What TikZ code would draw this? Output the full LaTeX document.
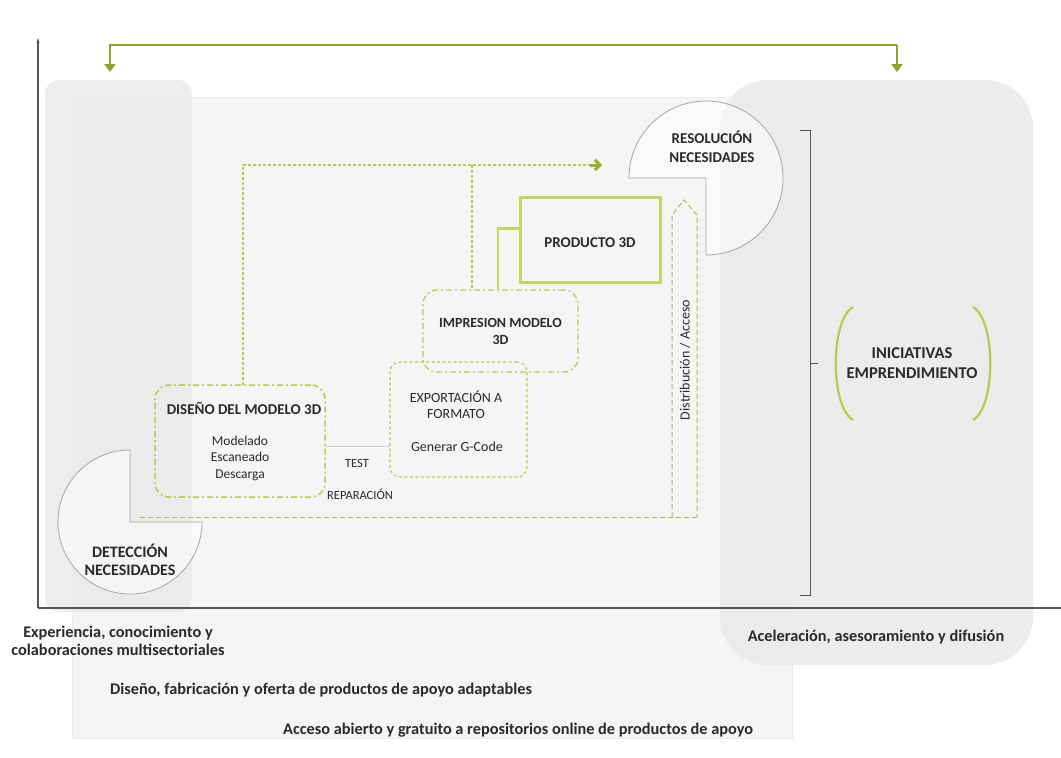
\documentclass[tikz,border=0pt]{standalone}
\usepackage{fontspec}
\setmainfont{Carlito}
\usetikzlibrary{arrows.meta}
\definecolor{olive}{HTML}{8AA52A}
\definecolor{dgreen}{HTML}{B5CC4C}
\definecolor{pgreen}{HTML}{C0D764}
\definecolor{band}{HTML}{EAEAEA}
\definecolor{mainbg}{HTML}{F5F5F5}
\definecolor{axis}{HTML}{555555}
\definecolor{txt}{HTML}{2A2A2A}
\begin{document}
\begin{tikzpicture}[x=1pt,y=-1pt,
  dashbox/.style={draw=dgreen,line width=1.5pt,dash pattern=on 6pt off 3pt on 2pt off 3pt,rounded corners=14pt,inner sep=0pt},
  expbox/.style={draw=dgreen,line width=1.1pt,dash pattern=on 3pt off 2.5pt,rounded corners=10pt,inner sep=0pt},
  prodbox/.style={draw=pgreen,line width=3pt,inner sep=0pt},
  dline/.style={draw=dgreen,line width=1.1pt,dash pattern=on 3pt off 2pt},
  bline/.style={draw=dgreen!75!gray,line width=1pt,dash pattern=on 5pt off 3pt},
  needs/.style={draw=gray!70,line width=0.8pt,fill=white,fill opacity=0.55},
  ttl/.style={font=\bfseries\fontsize{15}{19}\selectfont,text=txt,align=center,inner sep=0pt},
  lbl/.style={font=\bfseries\fontsize{16.3}{18}\selectfont,text=txt,align=center,inner sep=0pt},
  sml/.style={font=\fontsize{13.5}{16.5}\selectfont,text=txt,align=center,inner sep=0pt}]
\useasboundingbox (0,0) rectangle (1061,758);
\fill[white] (0,0) rectangle (1061,758);
% background areas
\filldraw[fill=mainbg,draw=gray!15] (72,97) rectangle (792,738);
\fill[band,opacity=0.85,rounded corners=14pt] (45,80) rectangle (192,612);
\fill[band,opacity=0.9,rounded corners=48pt] (720,80) rectangle (1033,665);
% axes
\draw[axis,line width=1.1pt,-{Stealth[length=5pt,width=3pt]}] (38,608) -- (38,38);
\draw[axis,line width=1.1pt] (38,608) -- (1061,608);
% top arrow
\coordinate (tl) at (110,45);
\coordinate (tr) at (897,45);
\draw[olive,line width=2.6pt,-{Triangle[length=8pt,width=11pt]}] (tr) -- (tl) -- (110,72);
\draw[olive,line width=2.6pt,-{Triangle[length=8pt,width=11pt]}] (tr) -- (897,72);
% needs shapes
\draw[needs] (706,178) -- (629,178) arc[start angle=180,end angle=450,radius=77] -- cycle;
\node[ttl] (res) at (712,147) {RESOLUCIÓN\\NECESIDADES};
\draw[needs] (130,522) -- (130,450) arc[start angle=-90,end angle=-360,radius=72] -- cycle;
\node[ttl,font=\bfseries\fontsize{16}{18}\selectfont] (det) at (130,560) {DETECCIÓN\\NECESIDADES};
% boxes
\node[dashbox,minimum width=170pt,minimum height=112pt] (dis) at (240,441) {};
\node[ttl] (dist) at (244,408) {DISEÑO DEL MODELO 3D};
\node[sml] (disi) at (240,458) {Modelado\\Escaneado\\Descarga};
\node[expbox,minimum width=137pt,minimum height=115pt] (exp) at (458.5,419.5) {};
\node[sml,font=\fontsize{14}{15.5}\selectfont] (expt) at (456,404.5) {EXPORTACIÓN A\\FORMATO};
\node[sml,font=\fontsize{14}{16}\selectfont] (expg) at (457,447) {Generar G-Code};
\node[dashbox,minimum width=155pt,minimum height=82pt,line width=1.3pt] (imp) at (500.5,331) {};
\node[ttl,font=\bfseries\fontsize{14}{17}\selectfont] (impt) at (500.5,331) {IMPRESION MODELO\\3D};
\node[prodbox,minimum width=140pt,minimum height=85pt] (prod) at (590,239.5) {};
\node[ttl] (prodt) at (590,243) {PRODUCTO 3D};
\draw[pgreen,line width=2.5pt] ([yshift=11pt]prod.west) -| (498,290);
% connectors
\coordinate (ae) at (602,165);
\coordinate (br) at (472,165);
\draw[dline] (243,385) -- (243,165) -- (ae);
\draw[olive!80!dgreen,line width=3pt,-{Straight Barb[length=5pt,width=10pt]}] (590,165) -- (ae);
\draw[dline] (br) -- (472,290);
\draw[draw=gray!35,line width=0.6pt] (325,446) -- (390,446);
\node[font=\fontsize{12.5}{13}\selectfont,text=txt] (test) at (357,463) {TEST};
\node[font=\fontsize{12.5}{13}\selectfont,text=txt] (rep) at (360,494) {REPARACIÓN};
% bottom / distribution arrow
\coordinate (bs) at (140,517);
\draw[bline] (bs) -- (697,517);
\draw[bline] (672,517) -- (672,215) -- (684,200) -- (697,215) -- (697,517);
\node[font=\fontsize{14}{16}\selectfont,text=txt,rotate=90,inner sep=0pt] (distr) at (685,360) {Distribución / Acceso};
% bracket
\draw[axis,line width=0.9pt] (800,130) -- (810,130) -- (810,595) -- (800,595);
\draw[axis,line width=0.9pt] (810,363) -- (818,363);
% iniciativas
\draw[dgreen,line width=2.2pt] (853,307) .. controls (830,320) and (830,407) .. (853,420);
\draw[dgreen,line width=2.2pt] (973,307) .. controls (996,320) and (996,407) .. (973,420);
\node[ttl,font=\bfseries\fontsize{16.5}{20}\selectfont] (ini) at (912,363) {INICIATIVAS\\EMPRENDIMIENTO};
% bottom labels
\node[lbl] (exper) at (118,641) {Experiencia, conocimiento y\\colaboraciones multisectoriales};
\node[lbl] (acel) at (876,637) {Aceleración, asesoramiento y difusión};
\node[lbl,anchor=west] (dfab) at (110,690) {Diseño, fabricación y oferta de productos de apoyo adaptables};
\node[lbl,anchor=west] (acc) at (283,730) {Acceso abierto y gratuito a repositorios online de productos de apoyo};
\end{tikzpicture}
\end{document}
